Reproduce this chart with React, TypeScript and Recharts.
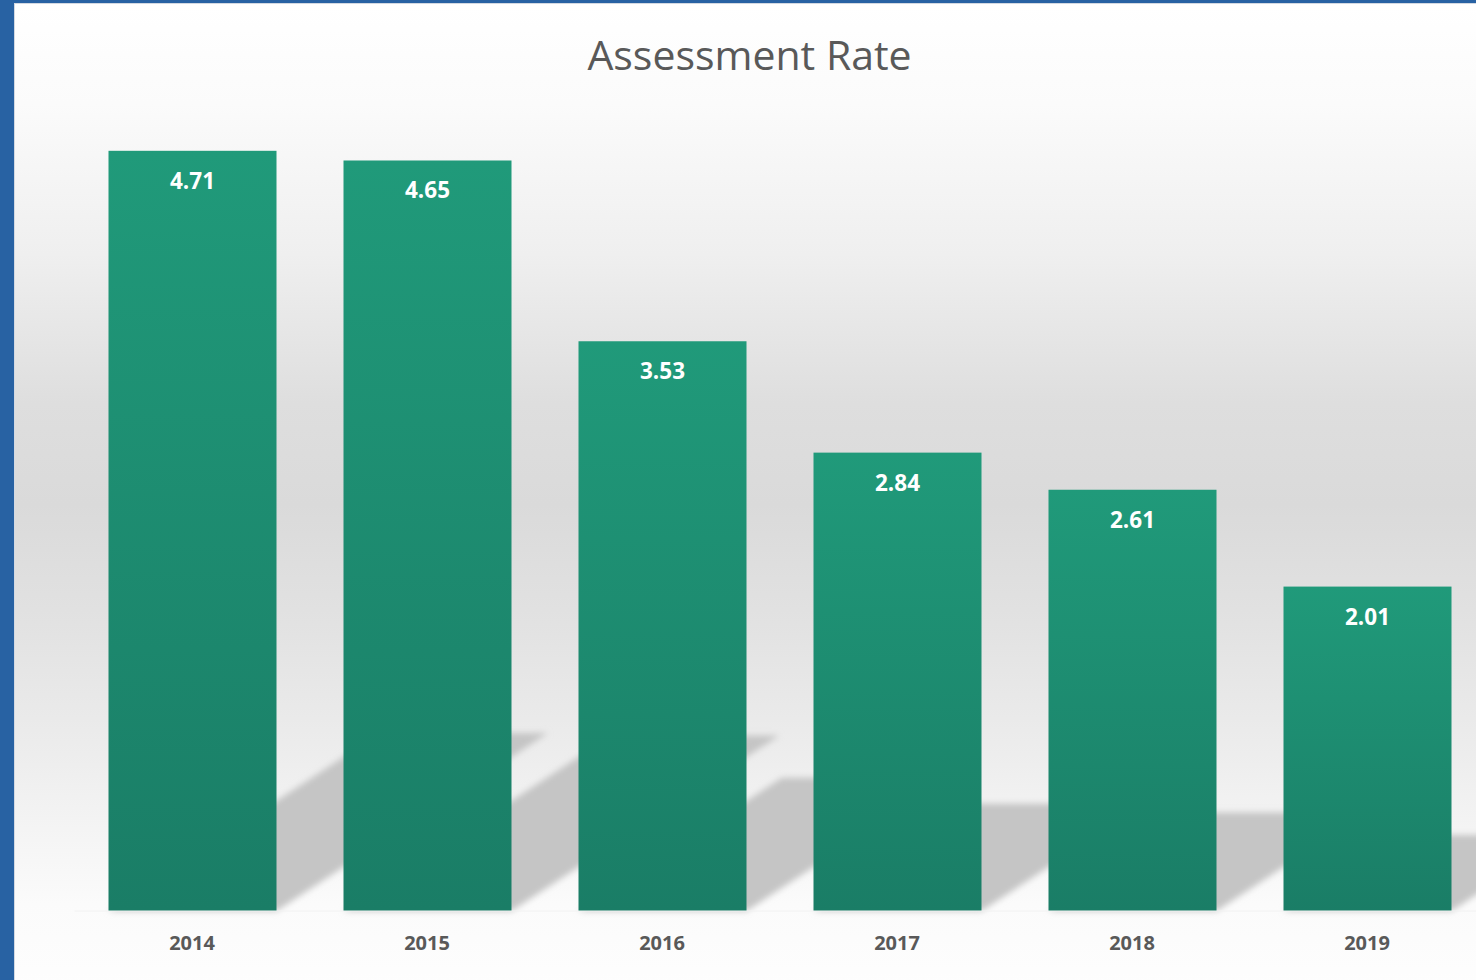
import { BarChart, Bar, XAxis, YAxis, LabelList } from "recharts";

const YEARS = ["2014", "2015", "2016", "2017", "2018", "2019"];
const RATES = [4.71, 4.65, 3.53, 2.84, 2.61, 2.01];

const chartData = YEARS.map((year, i) => ({ year, rate: RATES[i] }));

const FONT = "'Open Sans', 'Noto Sans', sans-serif";

// perspective shadow to the upper right, then the bar itself
function ShadowBar(props: any) {
  const { x, y, width, height } = props;
  if (!height) return null;
  const base = y + height;
  const dx = height * 0.357;
  const dy = height * 0.234;
  const pts = [
    [x, base],
    [x + width, base],
    [x + width + dx, base - dy],
    [x + dx, base - dy],
  ]
    .map((p) => p.join(","))
    .join(" ");
  return (
    <g>
      <polygon points={pts} fill="#c5c5c5" filter="url(#shadowBlur)" />
      <rect x={x} y={y} width={width} height={height} fill="url(#barFill)" />
    </g>
  );
}

function ValueLabel(props: any) {
  const { x, y, width, value } = props;
  return (
    <text
      x={x + width / 2}
      y={y + 38}
      textAnchor="middle"
      fill="#ffffff"
      fontFamily={FONT}
      fontWeight={700}
      fontSize={22.5}
    >
      {Number(value).toFixed(2)}
    </text>
  );
}

function YearTick(props: any) {
  const { x, y, payload } = props;
  return (
    <text
      x={x}
      y={y + 39}
      textAnchor="middle"
      fill="#595959"
      fontFamily={FONT}
      fontWeight={700}
      fontSize={20}
    >
      {payload.value}
    </text>
  );
}

export default function App() {
  return (
    <div
      style={{
        position: "absolute",
        left: 0,
        top: 0,
        width: 1476,
        height: 980,
        overflow: "hidden",
        background: "#2862a3",
      }}
    >
      <div
        style={{
          position: "absolute",
          left: 14,
          top: 3,
          width: 1500,
          height: 1000,
          borderTop: "1px solid #d3d9e2",
          borderLeft: "1px solid #d3d9e2",
          background:
            "linear-gradient(to bottom, #ffffff 0%, #fbfbfb 10%, #efefef 25%, #dedede 40%, #dadada 50%, #e2e2e2 62%, #ededed 75%, #fbfbfb 90%, #fefefe 100%)",
        }}
      >
        <BarChart
          width={1480}
          height={976}
          data={chartData}
          margin={{ top: 100, right: 10.5, left: 59.5, bottom: 29 }}
          barSize={168}
        >
          <defs>
            <linearGradient id="barFill" x1="0" y1="0" x2="0" y2="1">
              <stop offset="0%" stopColor="#209a7a" />
              <stop offset="100%" stopColor="#1a7d66" />
            </linearGradient>
            <filter id="shadowBlur" x="-10%" y="-10%" width="120%" height="120%">
              <feGaussianBlur stdDeviation="3" />
            </filter>
          </defs>
          <XAxis
            dataKey="year"
            height={40}
            tickLine={false}
            tickSize={0}
            tickMargin={0}
            axisLine={{ stroke: "#f2f2f2" }}
            tick={<YearTick />}
          />
          <YAxis hide domain={[0, 5]} />
          <Bar dataKey="rate" shape={<ShadowBar />} isAnimationActive={false}>
            <LabelList dataKey="rate" content={<ValueLabel />} />
          </Bar>
        </BarChart>
      </div>
      <div
        style={{
          position: "absolute",
          left: 0,
          top: 30,
          width: 1499,
          textAlign: "center",
          fontFamily: FONT,
          fontSize: 41,
          lineHeight: "48px",
          color: "#595959",
        }}
      >
        Assessment Rate
      </div>
    </div>
  );
}
